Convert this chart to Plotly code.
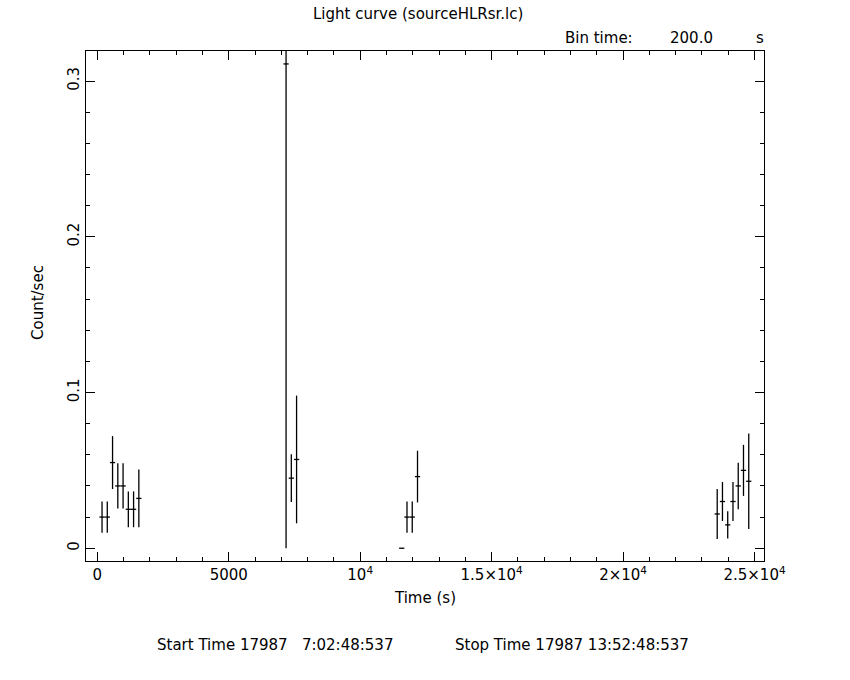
import plotly.graph_objects as go

# Data
time_s = [180, 380, 580, 780, 980, 1180, 1380, 1580,
          7180, 7380, 7580,
          11580, 11780, 11980, 12180,
          23580, 23780, 23980, 24180, 24380, 24580, 24780]
rate = [0.020, 0.020, 0.055, 0.040, 0.040, 0.025, 0.025, 0.032,
        0.311, 0.045, 0.057,
        0.000, 0.020, 0.020, 0.046,
        0.022, 0.030, 0.015, 0.030, 0.040, 0.050, 0.043]
rate_err = [0.010, 0.010, 0.017, 0.0145, 0.0145, 0.0115, 0.0115, 0.0185,
            0.311, 0.0153, 0.041,
            0.000, 0.010, 0.010, 0.0166,
            0.016, 0.0125, 0.0088, 0.0125, 0.0149, 0.0164, 0.0306]
half_bin = [100] * len(time_s)

x_tickvals = [0, 5000, 10000, 15000, 20000, 25000]
x_ticktext = ["0", "5000", "10<sup>4</sup>", "1.5×10<sup>4</sup>",
              "2×10<sup>4</sup>", "2.5×10<sup>4</sup>"]
y_tickvals = [0, 0.1, 0.2, 0.3]
y_ticktext = ["0", "0.1", "0.2", "0.3"]

FONT = "DejaVu Sans"
FS = 15

L, R, T, B = 86, 86, 51, 119

fig = go.Figure()
fig.add_trace(go.Scatter(
    x=time_s, y=rate, mode="markers",
    marker=dict(size=0.1, color="black"),
    error_x=dict(type="data", array=half_bin, width=0, thickness=1.3, color="black"),
    error_y=dict(type="data", array=rate_err, width=0, thickness=1.3, color="black"),
    showlegend=False, hoverinfo="skip",
))

axis_common = dict(
    showgrid=False, zeroline=False, showline=True, linecolor="black", linewidth=1.3,
    mirror="allticks", ticks="inside", tickcolor="black", tickwidth=1.3, ticklen=9,
    tickfont=dict(family=FONT, size=FS, color="black"),
)

fig.update_xaxes(
    range=[-430, 25360], tickvals=x_tickvals, ticktext=x_ticktext,
    minor=dict(dtick=1000, tick0=0, ticks="inside", ticklen=4, tickcolor="black", tickwidth=1.3),
    **axis_common,
)
fig.update_yaxes(
    range=[-0.0082, 0.3193], tickvals=y_tickvals, ticktext=y_ticktext, tickangle=-90,
    minor=dict(dtick=0.02, tick0=0, ticks="inside", ticklen=4, tickcolor="black", tickwidth=1.3),
    **axis_common,
)


def px_ann(text, x_px, y_px, xanchor="center", angle=0, size=FS):
    w = 850 - L - R
    h = 680 - T - B
    return dict(text=text, x=(x_px - L) / w, y=1 - (y_px - T) / h,
                xref="paper", yref="paper", showarrow=False, xanchor=xanchor,
                yanchor="middle", textangle=angle,
                font=dict(family=FONT, size=size, color="black"))


fig.update_layout(
    width=850, height=680,
    margin=dict(l=L, r=R, t=T, b=B),
    paper_bgcolor="white", plot_bgcolor="white",
    font=dict(family=FONT, size=FS, color="black"),
    annotations=[
        px_ann("Light curve (sourceHLRsr.lc)", 418, 14),
        px_ann("Bin time:", 563, 38, "left"),
        px_ann("200.0", 691, 38),
        px_ann("s", 760, 38),
        px_ann("Time (s)", 425, 598),
        px_ann("Count/sec", 38, 303, angle=-90),
        px_ann("Start Time 17987   7:02:48:537", 275, 645),
        px_ann("Stop Time 17987 13:52:48:537", 572, 645),
    ],
)

fig.write_html("out.html", config={"displayModeBar": False},
               post_script="document.body.style.margin='0';document.body.style.overflow='hidden';")
